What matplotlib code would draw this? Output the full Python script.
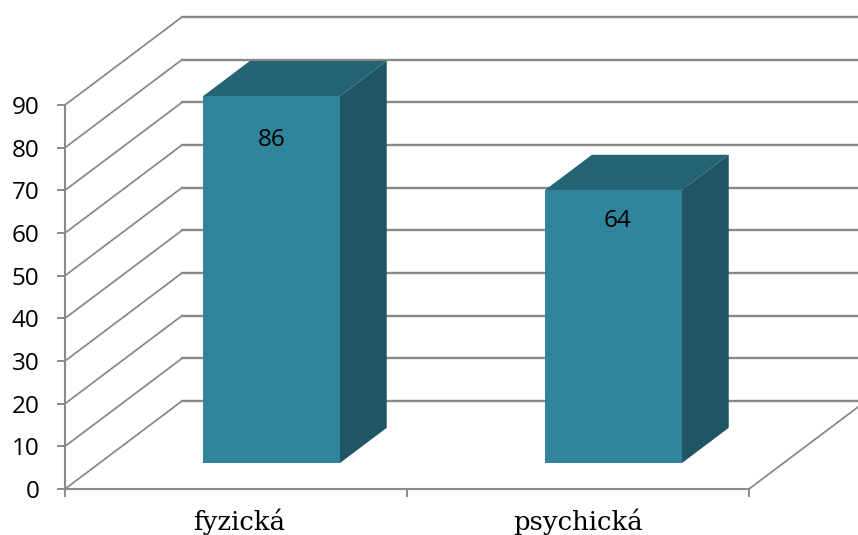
import matplotlib
matplotlib.use("Agg")
import matplotlib.pyplot as plt
from matplotlib.patches import Polygon

categories = ["fyzická", "psychická"]
values = [86, 64]
y_ticks = list(range(0, 100, 10))

grid_color = "#8a8a8a"
front_color = "#30849b"
top_color = "#246475"
side_color = "#1f5565"

W, H = 858, 535
fig = plt.figure(figsize=(W / 100, H / 100), dpi=100)
# plot box in pixels: x 65..749, y 105..489
ax = fig.add_axes([65 / W, 1 - 489 / H, 684 / W, 384 / H])
ax.set_xlim(0, 2)
ax.set_ylim(0, 90)

# how far the 3d floor goes back, in data units
depth_x = 117 / 342
depth_y = 88 / (384 / 90)

# walls and gridlines
for v in y_ticks:
    ax.plot([0, depth_x], [v, v + depth_y], color=grid_color, lw=1.3, clip_on=False, zorder=1)
    ax.plot([depth_x, 2 + depth_x], [v + depth_y, v + depth_y], color=grid_color, lw=1.7,
            clip_on=False, zorder=1)
ax.plot([2, 2 + depth_x], [0, depth_y], color=grid_color, lw=1.3, clip_on=False, zorder=1)

# bars, front face sits part way into the floor
bar_width = 0.4
front = 0.295
back = 0.695
# labels are not placed the same way on each bar
label_drop = [10.2, 7.2]
label_shift = [0.0, 0.012]
for i, val in enumerate(values):
    x0 = i + 0.503 - bar_width / 2 + front * depth_x
    x1 = x0 + bar_width
    y0 = front * depth_y
    y1 = y0 + val
    dx = (back - front) * depth_x
    dy = (back - front) * depth_y
    ax.bar(x0, val, width=bar_width, bottom=y0, align="edge", color=front_color, zorder=3,
           clip_on=False)
    ax.add_patch(Polygon([(x0, y1), (x1, y1), (x1 + dx, y1 + dy), (x0 + dx, y1 + dy)],
                         closed=True, facecolor=top_color, edgecolor="none", clip_on=False, zorder=3))
    ax.add_patch(Polygon([(x1, y0), (x1 + dx, y0 + dy), (x1 + dx, y1 + dy), (x1, y1)],
                         closed=True, facecolor=side_color, edgecolor="none", clip_on=False, zorder=3))
    ax.text((x0 + x1) / 2 + label_shift[i], y1 - label_drop[i], str(val), ha="center", va="center",
            color="black", fontsize=17.5, family="Open Sans", zorder=4)

for side in ["top", "right"]:
    ax.spines[side].set_visible(False)
for side in ["left", "bottom"]:
    ax.spines[side].set_color(grid_color)
    ax.spines[side].set_linewidth(1.5)
ax.patch.set_alpha(0)

ax.set_yticks(y_ticks)
ax.set_yticklabels([str(v) for v in y_ticks], fontsize=17.5, family="Open Sans")
ax.tick_params(axis="y", length=5.8, width=1.4, color=grid_color, pad=12.5)

ax.set_xticks([0, 1, 2])
ax.set_xticklabels([])
ax.tick_params(axis="x", which="major", length=5.8, width=1.4, color=grid_color)
ax.set_xticks([0.51, 1.5], minor=True)
ax.set_xticklabels(categories, minor=True, fontsize=18.6, family="DejaVu Serif")
ax.tick_params(axis="x", which="minor", length=0, pad=14)

fig.savefig("out.png", dpi=100)
